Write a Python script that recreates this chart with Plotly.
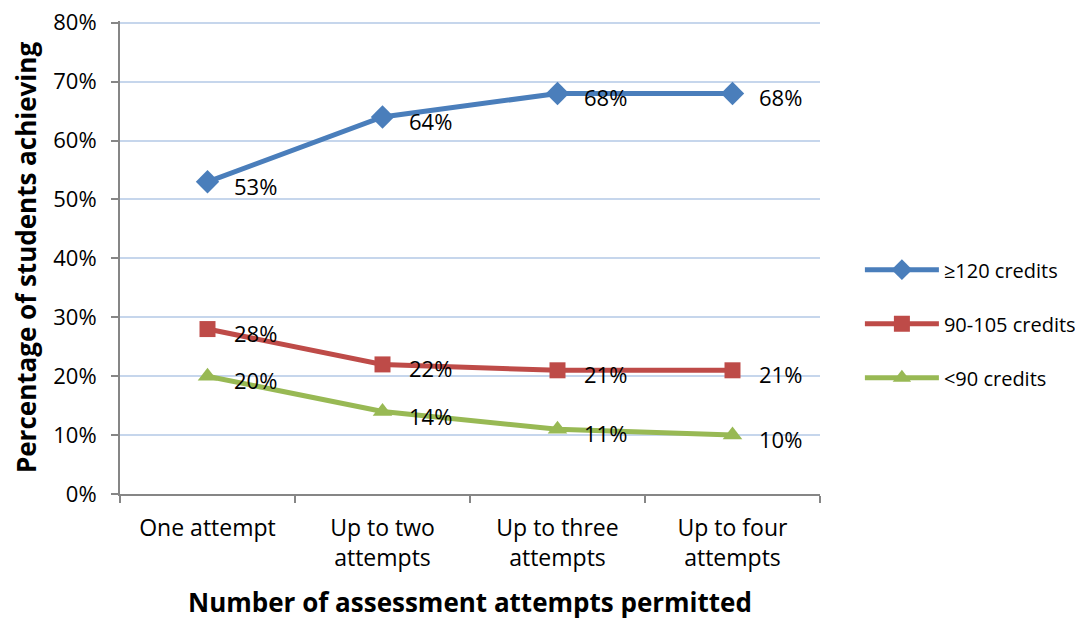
import plotly.graph_objects as go

categories = ["One attempt", "Up to two<br>attempts", "Up to three<br>attempts", "Up to four<br>attempts"]
series_names = ["≥120 credits", "90-105 credits", "<90 credits"]
high_credits = [53, 64, 68, 68]
mid_credits = [28, 22, 21, 21]
low_credits = [20, 14, 11, 10]
y_ticks = [0, 10, 20, 30, 40, 50, 60, 70, 80]

FONT = "Open Sans, Liberation Sans, sans-serif"
styles = [
    ("#4A7EBB", "diamond", 18),
    ("#BE4B48", "square", 16),
    ("#98B954", "triangle-up", 17),
]

fig = go.Figure()
annotations = []
for name, vals, (color, symbol, size) in zip(series_names, [high_credits, mid_credits, low_credits], styles):
    fig.add_trace(go.Scatter(
        x=categories,
        y=vals,
        mode="lines+markers",
        name=name,
        legendgroup=name,
        line=dict(color=color, width=5),
        marker=dict(symbol=symbol, size=size, color=color),
    ))
    for c, v in zip(categories, vals):
        annotations.append(dict(
            x=c, y=v, text=f"{v}%", showarrow=False,
            xanchor="left", yanchor="middle", xshift=24, yshift=-4,
            font=dict(size=22, color="#000000", family=FONT),
        ))

# page body has an 8px default margin, so the figure is shrunk by that amount
fig.update_layout(
    width=1075,
    height=613,
    margin=dict(l=112, r=263, t=13, b=127, autoexpand=False),
    plot_bgcolor="white",
    paper_bgcolor="white",
    font=dict(family=FONT, size=22, color="#000000"),
    annotations=annotations,
    showlegend=True,
    legend=dict(
        x=1.057, y=0.36, xanchor="left", yanchor="middle",
        font=dict(size=20), tracegroupgap=25, itemwidth=74,
        bgcolor="rgba(0,0,0,0)",
    ),
    xaxis=dict(
        title=dict(text="<b>Number of assessment attempts permitted</b>", font=dict(size=26), standoff=22),
        range=[-0.5, 3.5],
        showline=True, linecolor="#868686", linewidth=2,
        ticks="outside", tickson="boundaries", ticklen=7, tickcolor="#868686", tickwidth=2,
        tickfont=dict(size=23), ticklabelstandoff=12,
        showgrid=False,
    ),
    yaxis=dict(
        title=dict(text="<b>Percentage of students achieving</b>", font=dict(size=26), standoff=12),
        range=[0, 80.3],
        tickvals=y_ticks, ticktext=[f"{t}%" for t in y_ticks],
        showline=True, linecolor="#868686", linewidth=2,
        ticks="outside", ticklen=7, tickcolor="#868686", tickwidth=2,
        tickfont=dict(size=22), ticklabelstandoff=10, ticklabeloverflow="allow",
        gridcolor="#C6D6EC", gridwidth=1.5,
        zeroline=False,
    ),
)

fig.write_html("out.html")
